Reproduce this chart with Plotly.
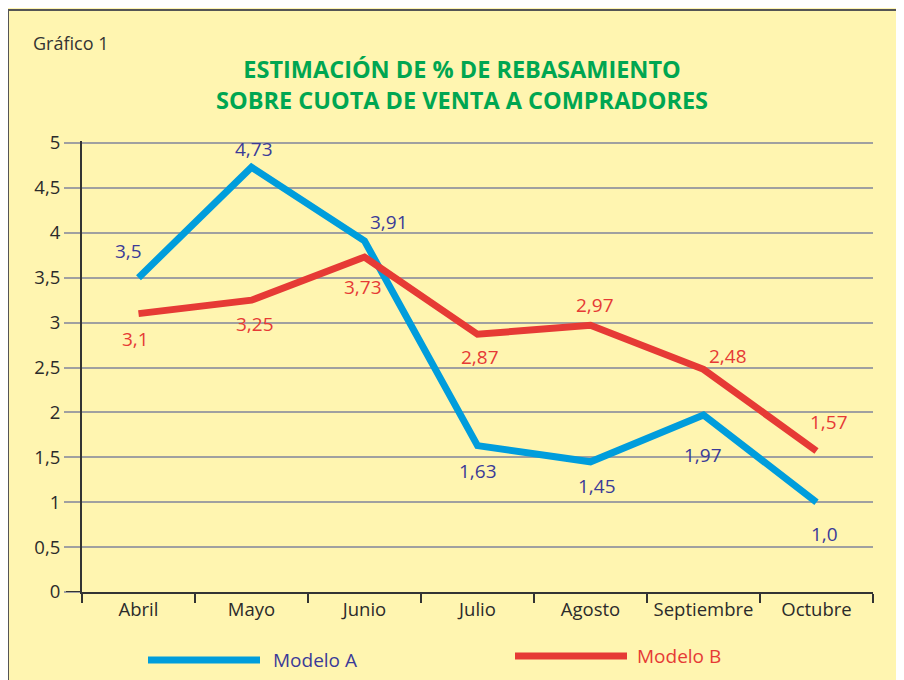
import plotly.graph_objects as go

meses = ["Abril", "Mayo", "Junio", "Julio", "Agosto", "Septiembre", "Octubre"]
modelo_a = [3.5, 4.73, 3.91, 1.63, 1.45, 1.97, 1.0]
modelo_b = [3.1, 3.25, 3.73, 2.87, 2.97, 2.48, 1.57]
etiquetas_a = ["3,5", "4,73", "3,91", "1,63", "1,45", "1,97", "1,0"]
etiquetas_b = ["3,1", "3,25", "3,73", "2,87", "2,97", "2,48", "1,57"]
y_ticks = [0, 0.5, 1, 1.5, 2, 2.5, 3, 3.5, 4, 4.5, 5]

# desplazamientos (px) de las etiquetas respecto al punto
shift_a = [(-10, 27), (2, 18), (24, 19), (0, -25), (6, -24), (-1, -40), (8, -32)]
shift_b = [(-3, -25), (3, -24), (-2, -30), (2, -23), (4, 20), (24, 13), (12, 29)]

AZUL = "#009ddc"
ROJO = "#e63a35"
AZUL_TXT = "#3b3b98"
FONDO = "#fff5b0"
FONT = "Open Sans"

# la página deja 8 px de margen blanco alrededor del gráfico
O = 8
W, H = 904 - O, 680 - O
# límites del área de trazado en coordenadas de la página
X0, X1, Y0, Y1 = 82, 873, 141, 592
L, R, T, B = X0 - O, W - (X1 - O), Y0 - O, H - (Y1 - O)
PW, PH = W - L - R, H - T - B


def px(x):
    return (x - X0) / PW


def py(y):
    return (Y1 - y) / PH


def fuente(size, color, weight=500):
    return dict(family=FONT, size=size, color=color, weight=weight)


fig = go.Figure()
fig.add_trace(go.Scatter(x=meses, y=modelo_a, mode="lines", name="Modelo A",
                         line=dict(color=AZUL, width=7), cliponaxis=False))
fig.add_trace(go.Scatter(x=meses, y=modelo_b, mode="lines", name="Modelo B",
                         line=dict(color=ROJO, width=7), cliponaxis=False))

anns = []
for vals, txts, shifts, col in [(modelo_a, etiquetas_a, shift_a, AZUL_TXT),
                                (modelo_b, etiquetas_b, shift_b, ROJO)]:
    for m, v, t, (dx, dy) in zip(meses, vals, txts, shifts):
        anns.append(dict(x=m, y=v, text=t, showarrow=False, xshift=dx, yshift=dy,
                         font=fuente(19, col)))

anns.append(dict(xref="paper", yref="paper", x=px(462), y=py(85), text=(
    "ESTIMACIÓN DE % DE REBASAMIENTO<br>SOBRE CUOTA DE VENTA A COMPRADORES"),
    showarrow=False, font=fuente(23.5, "#00a651", 700),
    xanchor="center", yanchor="middle"))
anns.append(dict(xref="paper", yref="paper", x=px(31), y=py(43), text="Gráfico 1",
                 showarrow=False, xanchor="left", yanchor="middle",
                 font=fuente(18, "#333333", 400)))
# leyenda manual
anns.append(dict(xref="paper", yref="paper", x=px(271), y=py(660), text="Modelo A",
                 showarrow=False, xanchor="left", yanchor="middle",
                 font=fuente(19, AZUL_TXT)))
anns.append(dict(xref="paper", yref="paper", x=px(635), y=py(656), text="Modelo B",
                 showarrow=False, xanchor="left", yanchor="middle",
                 font=fuente(19, ROJO)))

shapes = [
    # borde superior e izquierdo del recuadro
    dict(type="line", xref="paper", yref="paper", x0=px(7), x1=px(910), y0=py(10), y1=py(10),
         line=dict(color="#555555", width=2)),
    dict(type="line", xref="paper", yref="paper", x0=px(8), x1=px(8), y0=py(10), y1=py(690),
         line=dict(color="#555555", width=2)),
    # prolongación del eje x a la izquierda
    dict(type="line", xref="paper", yref="y", x0=px(66), x1=0, y0=0, y1=0,
         line=dict(color="#333333", width=2)),
    # leyenda
    dict(type="line", xref="paper", yref="paper", x0=px(148), x1=px(260), y0=py(660), y1=py(660),
         line=dict(color=AZUL, width=7)),
    dict(type="line", xref="paper", yref="paper", x0=px(515), x1=px(627), y0=py(656), y1=py(656),
         line=dict(color=ROJO, width=7)),
]

fig.update_layout(
    width=W, height=H,
    margin=dict(l=L, r=R, t=T, b=B),
    paper_bgcolor=FONDO, plot_bgcolor=FONDO,
    showlegend=False,
    separators=",.",
    annotations=anns,
    shapes=shapes,
    font=fuente(18, "#2b2b2b"),
    xaxis=dict(type="category", range=[-0.5, 6.5], tickson="boundaries",
               ticks="outside", ticklen=9, tickwidth=2, tickcolor="#333333",
               showline=True, linecolor="#333333", linewidth=2,
               showgrid=False, zeroline=False,
               tickfont=fuente(18.5, "#2b2b2b")),
    yaxis=dict(range=[0, (Y1 - Y0) / 89.8], tickvals=y_ticks,
               ticks="outside", ticklen=16, tickwidth=1.5, tickcolor="#a0a0a0",
               showline=True, linecolor="#333333", linewidth=2,
               showgrid=True, gridcolor="#a0a0a0", gridwidth=1.5, zeroline=False,
               tickfont=fuente(18.5, "#2b2b2b")),
)

fig.write_html("out.html")
